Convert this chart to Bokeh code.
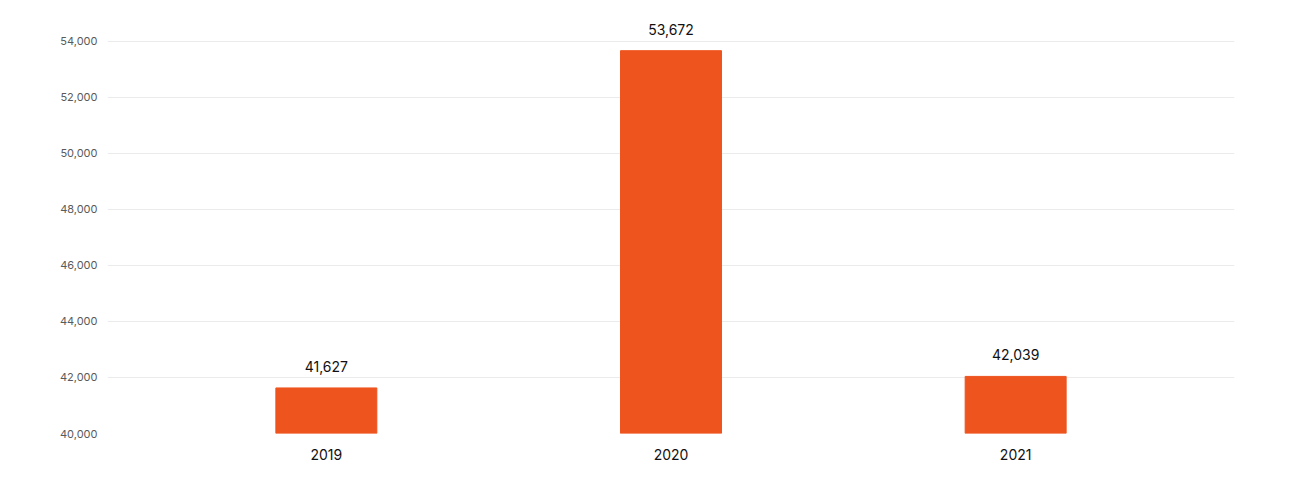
from bokeh.plotting import figure
from bokeh.models import ColumnDataSource, Range1d, FactorRange, NumeralTickFormatter, FixedTicker
from bokeh.core.properties import value
from bokeh.embed import file_html
from bokeh.resources import INLINE

years = ["2019", "2020", "2021"]
values = [41627, 53672, 42039]
labels = ["41,627", "53,672", "42,039"]
y_ticks = [40000, 42000, 44000, 46000, 48000, 50000, 52000, 54000]

src = ColumnDataSource(dict(x=years, top=values, lab=labels))

p = figure(width=1284, height=484, x_range=FactorRange(*years, range_padding=0.09),
           y_range=Range1d(40000, 55107), output_backend="svg", toolbar_location=None,
           min_border_left=107, min_border_right=50, min_border_top=10, min_border_bottom=51)

p.vbar(x="x", top="top", bottom=40000, width=0.293, source=src, color="#EE541E")
p.text(x="x", y="top", text="lab", source=src, text_align="center", text_baseline="bottom",
       y_offset=-16, text_font=value("Inter"), text_font_size="14px", text_color="#111111")

p.outline_line_color = None
p.xgrid.grid_line_color = None
p.ygrid.grid_line_color = "#ebebeb"
p.ygrid.grid_line_width = 1

p.yaxis.ticker = FixedTicker(ticks=y_ticks)
p.yaxis.formatter = NumeralTickFormatter(format="0,0")
for ax in (p.xaxis, p.yaxis):
    ax.axis_line_color = None
    ax.major_tick_line_color = None
    ax.minor_tick_line_color = None
    ax.major_label_text_font = "Inter"
p.yaxis.major_label_text_font_size = "11px"
p.yaxis.major_label_text_color = "#5a5a5a"
p.yaxis.major_label_standoff = 4
p.xaxis.major_label_text_font_size = "14px"
p.xaxis.major_label_text_color = "#111111"
p.xaxis.major_label_standoff = 9

open("out.html", "w").write(file_html(p, INLINE))
